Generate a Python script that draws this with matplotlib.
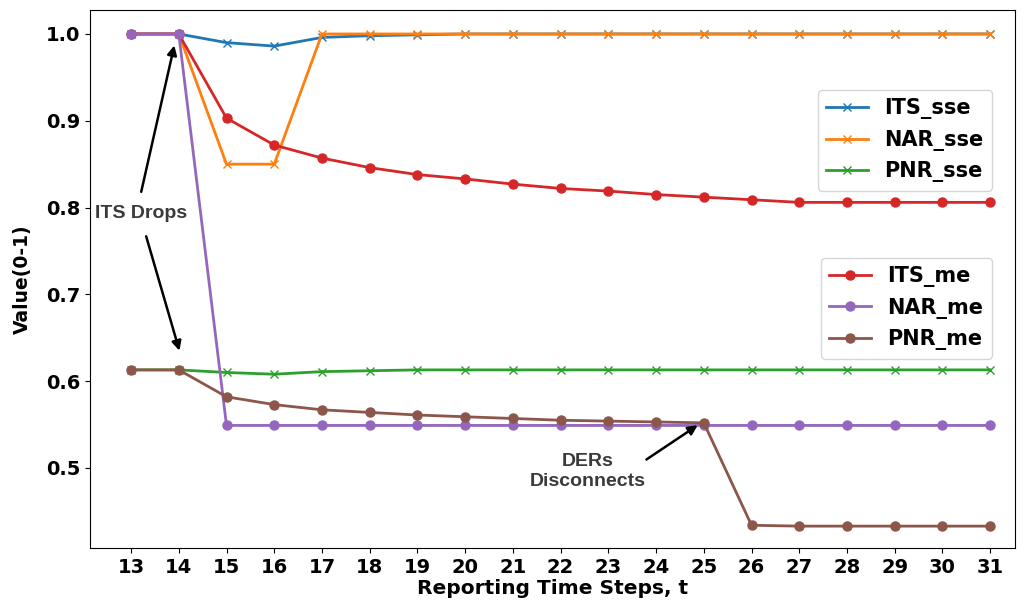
import matplotlib
matplotlib.use("Agg")
import matplotlib.pyplot as plt

steps = list(range(13, 32))
its_sse = [1.0, 1.0, 0.990, 0.986, 0.996, 0.998, 0.999, 1.0, 1.0, 1.0, 1.0, 1.0, 1.0, 1.0, 1.0, 1.0, 1.0, 1.0, 1.0]
nar_sse = [1.0, 1.0, 0.850, 0.850, 1.0, 1.0, 1.0, 1.0, 1.0, 1.0, 1.0, 1.0, 1.0, 1.0, 1.0, 1.0, 1.0, 1.0, 1.0]
pnr_sse = [0.613, 0.613, 0.610, 0.608, 0.611, 0.612, 0.613, 0.613, 0.613, 0.613, 0.613, 0.613, 0.613, 0.613, 0.613, 0.613, 0.613, 0.613, 0.613]
its_me = [1.0, 1.0, 0.903, 0.872, 0.857, 0.846, 0.838, 0.833, 0.827, 0.822, 0.819, 0.815, 0.812, 0.809, 0.806, 0.806, 0.806, 0.806, 0.806]
nar_me = [1.0, 1.0, 0.549, 0.549, 0.549, 0.549, 0.549, 0.549, 0.549, 0.549, 0.549, 0.549, 0.549, 0.549, 0.549, 0.549, 0.549, 0.549, 0.549]
pnr_me = [0.613, 0.613, 0.582, 0.573, 0.567, 0.564, 0.561, 0.559, 0.557, 0.555, 0.554, 0.553, 0.552, 0.434, 0.433, 0.433, 0.433, 0.433, 0.433]

fig = plt.figure(figsize=(10.25, 6.05), dpi=100)
ax = fig.add_axes([90/1025, 1-548/605, (1015-90)/1025, (548-10)/605])

lw = 2
l1, = ax.plot(steps, its_sse, color="#1f77b4", marker="x", lw=lw, ms=6, label="ITS_sse")
l2, = ax.plot(steps, nar_sse, color="#ff7f0e", marker="x", lw=lw, ms=6, label="NAR_sse")
l3, = ax.plot(steps, pnr_sse, color="#2ca02c", marker="x", lw=lw, ms=6, label="PNR_sse")
l4, = ax.plot(steps, its_me, color="#d62728", marker="o", lw=lw, ms=6.5, label="ITS_me")
l5, = ax.plot(steps, nar_me, color="#9467bd", marker="o", lw=lw, ms=6.5, label="NAR_me")
l6, = ax.plot(steps, pnr_me, color="#8c564b", marker="o", lw=lw, ms=6.5, label="PNR_me")

ax.set_xlim(12.14, 31.52)
ax.set_ylim(0.4078, 1.0276)
ax.set_xticks(steps)
ax.set_yticks([0.5, 0.6, 0.7, 0.8, 0.9, 1.0])
for lab in ax.get_xticklabels() + ax.get_yticklabels():
    lab.set_fontweight("bold")
    lab.set_fontsize(14)
ax.set_xlabel("Reporting Time Steps, t", fontsize=14.5, fontweight="bold", labelpad=2)
ax.set_ylabel("Value(0-1)", fontsize=13.5, fontweight="bold", labelpad=10)

leg1 = ax.legend(handles=[l1, l2, l3], loc="upper right", bbox_to_anchor=(0.975, 0.851),
                 borderaxespad=0, prop={"weight": "bold", "size": 15})
ax.add_artist(leg1)
ax.legend(handles=[l4, l5, l6], loc="upper right", bbox_to_anchor=(0.975, 0.539),
          borderaxespad=0, prop={"weight": "bold", "size": 15})

ann_font = dict(family="Liberation Sans", fontsize=14, fontweight="bold", color="#3a3a3a")

# ITS Drops annotation
ax.text(13.21, 0.7926, "ITS Drops", ha="center", va="center", **ann_font)
ax.annotate("", xy=(13.92, 0.99), xytext=(13.2, 0.815),
            arrowprops=dict(arrowstyle="-|>", color="black", lw=1.8, mutation_scale=14))
ax.annotate("", xy=(14.03, 0.632), xytext=(13.3, 0.770),
            arrowprops=dict(arrowstyle="-|>", color="black", lw=1.8, mutation_scale=14))

# DERs Disconnects annotation
ax.text(22.57, 0.496, "DERs\nDisconnects", ha="center", va="center", linespacing=1.2, **ann_font)
ax.annotate("", xy=(24.92, 0.551), xytext=(23.75, 0.508),
            arrowprops=dict(arrowstyle="-|>", color="black", lw=1.8, mutation_scale=14))

fig.savefig("out.png", dpi=100)
